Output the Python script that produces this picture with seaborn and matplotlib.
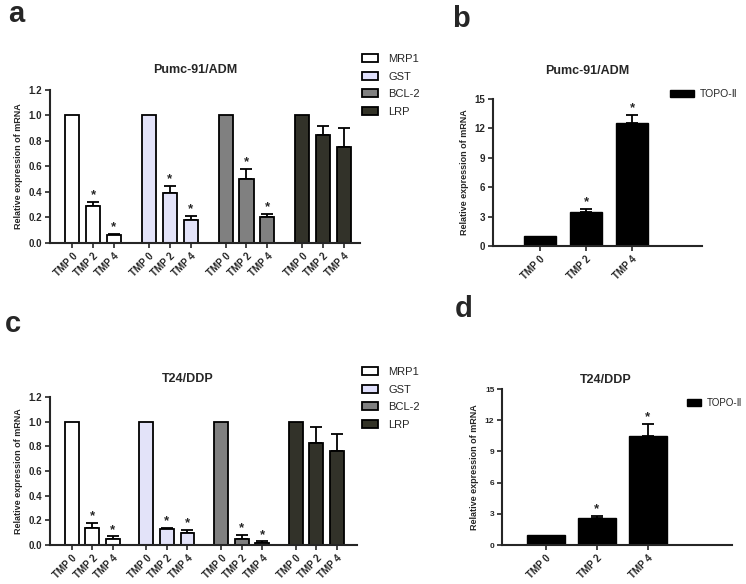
import numpy as np
import pandas as pd
import matplotlib
matplotlib.use("Agg")
import matplotlib.pyplot as plt
from matplotlib.patches import Patch
import seaborn as sns

# 数据
genes = ["MRP1", "GST", "BCL-2", "LRP"]
doses = ["TMP 0", "TMP 2", "TMP 4"]

pumc_mean = [[1.0, 0.29, 0.06], [1.0, 0.39, 0.18], [1.0, 0.50, 0.20], [1.0, 0.85, 0.75]]
pumc_err = [[0.0, 0.03, 0.01], [0.0, 0.06, 0.03], [0.0, 0.08, 0.03], [0.0, 0.07, 0.15]]
pumc_sig = [[0, 1, 1], [0, 1, 1], [0, 1, 1], [0, 0, 0]]

t24_mean = [[1.0, 0.14, 0.05], [1.0, 0.13, 0.10], [1.0, 0.05, 0.02], [1.0, 0.83, 0.76]]
t24_err = [[0.0, 0.04, 0.02], [0.0, 0.01, 0.02], [0.0, 0.03, 0.01], [0.0, 0.13, 0.14]]
t24_sig = [[0, 1, 1], [0, 1, 1], [0, 1, 1], [0, 0, 0]]

topo_label = "TOPO-Ⅱ"
pumc_topo_mean = [1.0, 3.45, 12.6]
pumc_topo_err = [0.0, 0.35, 0.8]
t24_topo_mean = [1.0, 2.57, 10.5]
t24_topo_err = [0.0, 0.18, 1.1]
topo_sig = [0, 1, 1]

gene_colors = ["#ffffff", "#e0e0fc", "#808080", "#333327"]

sns.set_style("ticks")
plt.rcParams["font.family"] = ["Liberation Sans", "DejaVu Sans"]
plt.rcParams["font.weight"] = "bold"
plt.rcParams["axes.linewidth"] = 1.5

W, H = 746, 584
fig = plt.figure(figsize=(W / 100, H / 100), dpi=100)


def rect(x0, ytop, x1, ybot):
    return [x0 / W, 1 - ybot / H, (x1 - x0) / W, (ybot - ytop) / H]


def style_axes(ax, xsize, ysize):
    sns.despine(ax=ax)
    ax.tick_params(axis="both", direction="out", length=3.5, width=1.2, pad=2)
    ax.tick_params(axis="x", labelsize=xsize)
    ax.tick_params(axis="y", labelsize=ysize)
    for lab in ax.get_xticklabels():
        lab.set_rotation(45)
        lab.set_ha("right")
        lab.set_va("top")
        lab.set_rotation_mode("anchor")


def add_err_stars(ax, pos, mean, err, sig, offset):
    pos, mean, err = np.array(pos), np.array(mean), np.array(err)
    m = err > 0
    ax.errorbar(pos[m], mean[m], yerr=[np.zeros(m.sum()), err[m]], fmt="none",
                ecolor="black", elinewidth=1.3, capsize=4, capthick=1.3, zorder=1)
    for p, y, e, s in zip(pos, mean, err, sig):
        if s:
            ax.text(p, y + e + offset, "*", ha="center", va="bottom",
                    fontsize=9.5, fontweight="bold")


def gene_panel(box, means, errs, sigs, gap, xlim, title, title_x, title_pad, legend_xy):
    ax = fig.add_axes(rect(*box))
    rows = []
    for g, gene in enumerate(genes):
        for i, d in enumerate(doses):
            rows.append({"pos": g * gap + i, "dose": d, "gene": gene,
                         "value": means[g][i], "err": errs[g][i], "sig": sigs[g][i]})
    df = pd.DataFrame(rows)
    sns.barplot(data=df, x="pos", y="value", hue="gene", hue_order=genes,
                palette=gene_colors, native_scale=True, dodge=False, width=0.68,
                errorbar=None, edgecolor="black", linewidth=1.3, legend=False,
                ax=ax, zorder=2)
    add_err_stars(ax, df["pos"], df["value"], df["err"], df["sig"], 0.005)
    ax.set_xlim(*xlim)
    ax.set_ylim(0, 1.2)
    ax.set_yticks(np.arange(0, 1.21, 0.2))
    ax.set_yticklabels([f"{v:.1f}" for v in np.arange(0, 1.21, 0.2)])
    ax.set_xticks(df["pos"])
    ax.set_xticklabels(df["dose"])
    ax.set_xlabel("")
    ax.set_ylabel("Relative expression of mRNA", fontsize=6.5, fontweight="bold", labelpad=4)
    ax.set_title(title, fontsize=9, fontweight="bold", x=title_x, pad=title_pad)
    style_axes(ax, 7, 7)
    handles = [Patch(facecolor=c, edgecolor="black", linewidth=1.3, label=g)
               for g, c in zip(genes, gene_colors)]
    fig.legend(handles=handles, loc="upper left",
               bbox_to_anchor=(legend_xy[0] / W, 1 - legend_xy[1] / H),
               frameon=False, borderpad=0, borderaxespad=0, handlelength=1.45,
               handleheight=0.7, handletextpad=0.9, labelspacing=0.68,
               prop={"size": 8, "weight": "normal"})
    return ax


def topo_panel(box, mean, err, width, xlim, title, title_x, title_pad, ysize,
               legend_xy, legend_size, handlelength):
    ax = fig.add_axes(rect(*box))
    df = pd.DataFrame({"dose": doses, "value": mean, "err": err, "sig": topo_sig})
    sns.barplot(data=df, x="dose", y="value", color="black", width=width,
                errorbar=None, edgecolor="black", linewidth=1.0, label=topo_label,
                ax=ax, zorder=2)
    add_err_stars(ax, np.arange(len(doses)), df["value"], df["err"], df["sig"], 0.1)
    ax.set_xlim(*xlim)
    ax.set_ylim(0, 15)
    ax.set_yticks(range(0, 16, 3))
    ax.set_xlabel("")
    ax.set_ylabel("Relative expression of mRNA", fontsize=6.5, fontweight="bold", labelpad=4)
    ax.set_title(title, fontsize=9, fontweight="bold", x=title_x, pad=title_pad)
    style_axes(ax, 7, ysize)
    ax.legend(loc="upper left", bbox_to_anchor=(legend_xy[0] / W, 1 - legend_xy[1] / H),
              bbox_transform=fig.transFigure, frameon=False, borderpad=0,
              borderaxespad=0, handlelength=handlelength, handleheight=0.7,
              handletextpad=0.6, prop={"size": legend_size, "weight": "normal"})
    return ax


gene_panel((50, 90, 360, 243), pumc_mean, pumc_err, pumc_sig, 3.68, (-1.07, 13.81),
           "Pumc-91/ADM", 0.47, 12, (362, 54))
gene_panel((50, 397, 357, 545), t24_mean, t24_err, t24_sig, 3.64, (-1.06, 13.9),
           "T24/DDP", 0.45, 11, (362, 367))
topo_panel((493, 99, 702, 246), pumc_topo_mean, pumc_topo_err, 0.7, (-1.02, 3.52),
           "Pumc-91/ADM", 0.45, 18, 7, (670, 89), 7.5, 2.3)
topo_panel((502, 389, 732, 545), t24_topo_mean, t24_topo_err, 0.75, (-0.86, 3.65),
           "T24/DDP", 0.45, 4, 6, (687, 398), 7, 1.45)

for letter, x, y in [("a", 8, 22), ("b", 452, 27), ("c", 5, 332), ("d", 455, 317)]:
    fig.text(x / W, 1 - y / H, letter, fontsize=21, fontweight="bold",
             ha="left", va="baseline")

fig.savefig("out.png", dpi=100)
